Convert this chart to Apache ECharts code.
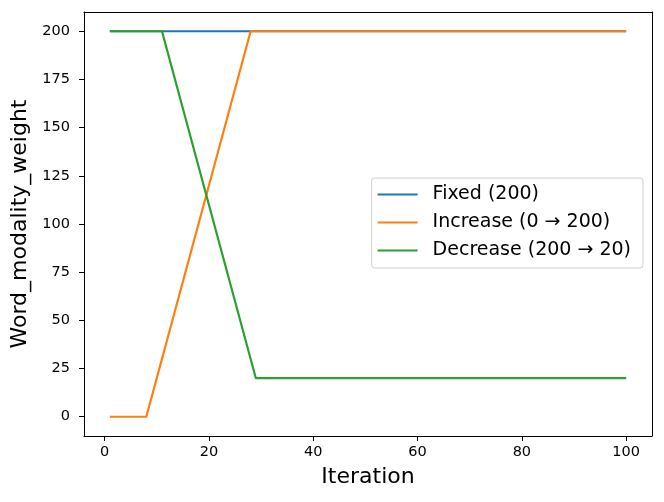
<!DOCTYPE html>
<html>
<head>
<meta charset="utf-8">
<script src="https://cdn.jsdelivr.net/npm/echarts@6/dist/echarts.min.js"></script>
<style>
  html, body { margin: 0; padding: 0; background: #fff; }
  #main { width: 664px; height: 502px; }
</style>
</head>
<body>
<div id="main"></div>
<script>
// kink points (iteration, weight)
const fixedX = [1, 100];
const fixedY = [200, 200];
const increaseX = [1, 8, 28, 100];
const increaseY = [0, 0, 200, 200];
const decreaseX = [1, 11, 29, 100];
const decreaseY = [200, 200, 20, 20];

const xTicks = [0, 20, 40, 60, 80, 100];
const yTicks = [0, 25, 50, 75, 100, 125, 150, 175, 200];

const seriesNames = ['Fixed (200)', 'Increase (0 → 200)', 'Decrease (200 → 20)'];
const colors = ['#1f77b4', '#ff7f0e', '#2ca02c'];

const pairs = (xs, ys) => xs.map((x, i) => [x, ys[i]]);

var myChart = echarts.init(document.getElementById('main'));

const font = 'DejaVu Sans';

var option = {
  animation: false,
  grid: { left: 84, right: 12, top: 12, bottom: 66 },
  legend: {
    orient: 'vertical',
    right: 21,
    top: 178,
    itemWidth: 40,
    itemHeight: 2,
    itemGap: 9,
    padding: [7, 12, 8, 6],
    backgroundColor: 'rgba(255,255,255,0.8)',
    borderColor: '#d0d0d0',
    borderWidth: 1,
    borderRadius: 3,
    icon: 'rect',
    textStyle: { fontFamily: font, fontSize: 19, color: '#000', padding: [0, 0, 0, 10] },
    data: seriesNames
  },
  xAxis: {
    type: 'value',
    min: -3.95,
    max: 104.95,
    name: 'Iteration',
    nameLocation: 'middle',
    nameGap: 30,
    nameTextStyle: { fontFamily: font, fontSize: 22, color: '#000' },
    axisLine: { show: true, onZero: false, lineStyle: { color: '#000', width: 1 } },
    axisTick: { show: true, length: 5, lineStyle: { color: '#000' }, customValues: xTicks },
    axisLabel: { fontFamily: font, fontSize: 14.5, color: '#000', margin: 9, customValues: xTicks },
    splitLine: { show: false }
  },
  yAxis: {
    type: 'value',
    min: -10,
    max: 210,
    name: 'Word_modality_weight',
    nameLocation: 'middle',
    nameGap: 51,
    nameTextStyle: { fontFamily: font, fontSize: 22, color: '#000' },
    axisLine: { show: true, onZero: false, lineStyle: { color: '#000', width: 1 } },
    axisTick: { show: true, length: 5, lineStyle: { color: '#000' }, customValues: yTicks },
    axisLabel: { fontFamily: font, fontSize: 14.5, color: '#000', margin: 14, customValues: yTicks },
    splitLine: { show: false }
  },
  series: [
    { name: seriesNames[0], data: pairs(fixedX, fixedY) },
    { name: seriesNames[1], data: pairs(increaseX, increaseY) },
    { name: seriesNames[2], data: pairs(decreaseX, decreaseY) }
  ].map((s, i) => ({
    ...s,
    type: 'line',
    showSymbol: false,
    symbol: 'none',
    color: colors[i],
    lineStyle: { width: 2.2, color: colors[i] }
  }))
};

// right and top spines
option.xAxis = [option.xAxis, {
  type: 'value', position: 'top', min: -3.95, max: 104.95,
  axisLine: { show: true, onZero: false, lineStyle: { color: '#000' } },
  axisTick: { show: false }, axisLabel: { show: false }, splitLine: { show: false }
}];
option.yAxis = [option.yAxis, {
  type: 'value', position: 'right', min: -10, max: 210,
  axisLine: { show: true, onZero: false, lineStyle: { color: '#000' } },
  axisTick: { show: false }, axisLabel: { show: false }, splitLine: { show: false }
}];

myChart.setOption(option);
</script>
</body>
</html>
